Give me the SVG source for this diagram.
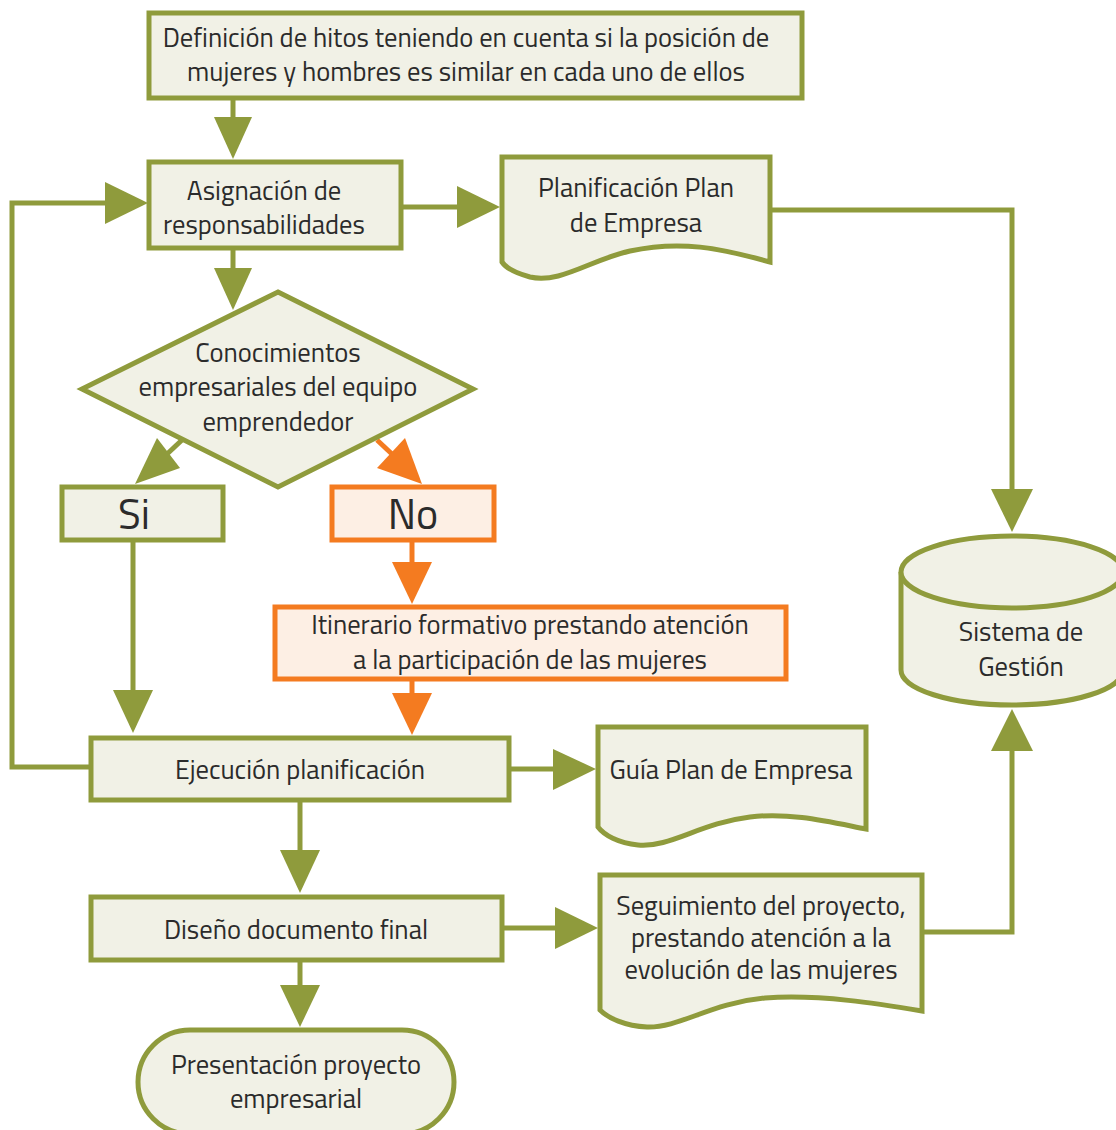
<svg xmlns="http://www.w3.org/2000/svg" width="1116" height="1130" viewBox="0 0 1116 1130">
<style>
.g{fill:#f1f1e6;stroke:#8f9b3c;stroke-width:5}
.o{fill:#fdefe4;stroke:#f47b20;stroke-width:5}
.t{font-family:"Titillium Web",Roboto,"Liberation Sans",sans-serif;font-size:26.6px;fill:#2b2b2b;text-anchor:middle}
.big{font-size:42px}
.lg{fill:none;stroke:#8f9b3c;stroke-width:5}
.lo{fill:none;stroke:#f47b20;stroke-width:5}
.ag{fill:#8f9b3c}
.ao{fill:#f47b20}
</style>
<rect width="1116" height="1130" fill="#ffffff"/>
<g id="connectors">
<path class="lg" d="M233,98 V120"/><polygon class="ag" points="214,117 252,117 233,159"/>
<path class="lg" d="M401,207 H460"/><polygon class="ag" points="457,186 457,228 500,207"/>
<path class="lg" d="M770,210 H1012 V492"/><polygon class="ag" points="991,489 1033,489 1012,532"/>
<path class="lg" d="M91,767 H12 V203 H108"/><polygon class="ag" points="105,182 105,224 148,203"/>
<path class="lg" d="M233,248 V270"/><polygon class="ag" points="214,268 252,268 233,310"/>
<path class="lg" d="M182,440 L166,455"/><polygon class="ag" points="157,438 180,468 135,484"/>
<path class="lo" d="M377,440 L393,455"/><polygon class="ao" points="405,438 377,468 422,484"/>
<path class="lg" d="M133,540 V692"/><polygon class="ag" points="113,690 153,690 133,733"/>
<path class="lo" d="M412,540 V565"/><polygon class="ao" points="392,562 432,562 412,604"/>
<path class="lo" d="M412,679 V695"/><polygon class="ao" points="392,693 432,693 412,735"/>
<path class="lg" d="M509,769 H556"/><polygon class="ag" points="553,749 553,790 596,769"/>
<path class="lg" d="M300,800 V852"/><polygon class="ag" points="280,850 320,850 300,893"/>
<path class="lg" d="M502,928 H558"/><polygon class="ag" points="555,907 555,949 598,928"/>
<path class="lg" d="M300,960 V988"/><polygon class="ag" points="280,985 320,985 300,1027"/>
<path class="lg" d="M922,932 H1012 V748"/><polygon class="ag" points="991,751 1033,751 1012,709"/>
</g>
<g id="n-definicion">
<rect class="g" x="149" y="13" width="653" height="85"/>
<text class="t" x="466" y="47">Definición de hitos teniendo en cuenta si la posición de</text>
<text class="t" x="466" y="81">mujeres y hombres es similar en cada uno de ellos</text>
</g>
<g id="n-asignacion">
<rect class="g" x="149" y="162" width="252" height="86"/>
<text class="t" x="264" y="200">Asignación de</text>
<text class="t" x="264" y="234">responsabilidades</text>
</g>
<g id="n-planificacion">
<path class="g" d="M502,157 H770 V262 C720,248 680,240 630,251 C590,260 560,284 530,277 C515,273 506,268 502,262 Z"/>
<text class="t" x="636" y="197">Planificación Plan</text>
<text class="t" x="636" y="232">de Empresa</text>
</g>
<g id="n-conocimientos">
<polygon class="g" points="278,292 473,389 278,487 82,389"/>
<text class="t" x="278" y="362">Conocimientos</text>
<text class="t" x="278" y="396">empresariales del equipo</text>
<text class="t" x="278" y="431">emprendedor</text>
</g>
<g id="n-si">
<rect class="g" x="62" y="487" width="161" height="53"/>
<text class="t big" x="134" y="529">Si</text>
</g>
<g id="n-no">
<rect class="o" x="332" y="487" width="162" height="53"/>
<text class="t big" x="413" y="529">No</text>
</g>
<g id="n-itinerario">
<rect class="o" x="275" y="607" width="511" height="72"/>
<text class="t" x="530" y="634">Itinerario formativo prestando atención</text>
<text class="t" x="530" y="669">a la participación de las mujeres</text>
</g>
<g id="n-sistema">
<path class="g" d="M901,572 V670 A111,35 0 0 0 1123,670 V572"/>
<ellipse class="g" cx="1012" cy="572" rx="111" ry="36"/>
<text class="t" x="1021" y="641">Sistema de</text>
<text class="t" x="1021" y="676">Gestión</text>
</g>
<g id="n-ejecucion">
<rect class="g" x="91" y="738" width="418" height="62"/>
<text class="t" x="300" y="779">Ejecución planificación</text>
</g>
<g id="n-guia">
<path class="g" d="M598,727 H866 V829 C830,822 790,812 750,817 C700,823 670,848 638,845 C618,843 604,835 598,827 Z"/>
<text class="t" x="731" y="779">Guía Plan de Empresa</text>
</g>
<g id="n-diseno">
<rect class="g" x="91" y="897" width="411" height="63"/>
<text class="t" x="296" y="939">Diseño documento final</text>
</g>
<g id="n-seguimiento">
<path class="g" d="M600,875 H922 V1011 C880,1004 820,994 765,998 C710,1003 680,1028 647,1027 C625,1026 608,1018 600,1010 Z"/>
<text class="t" x="761" y="915">Seguimiento del proyecto,</text>
<text class="t" x="761" y="947">prestando atención a la</text>
<text class="t" x="761" y="979">evolución de las mujeres</text>
</g>
<g id="n-presentacion">
<rect class="g" x="138" y="1030" width="316" height="104" rx="52" ry="52"/>
<text class="t" x="296" y="1074">Presentación proyecto</text>
<text class="t" x="296" y="1108">empresarial</text>
</g>
</svg>
